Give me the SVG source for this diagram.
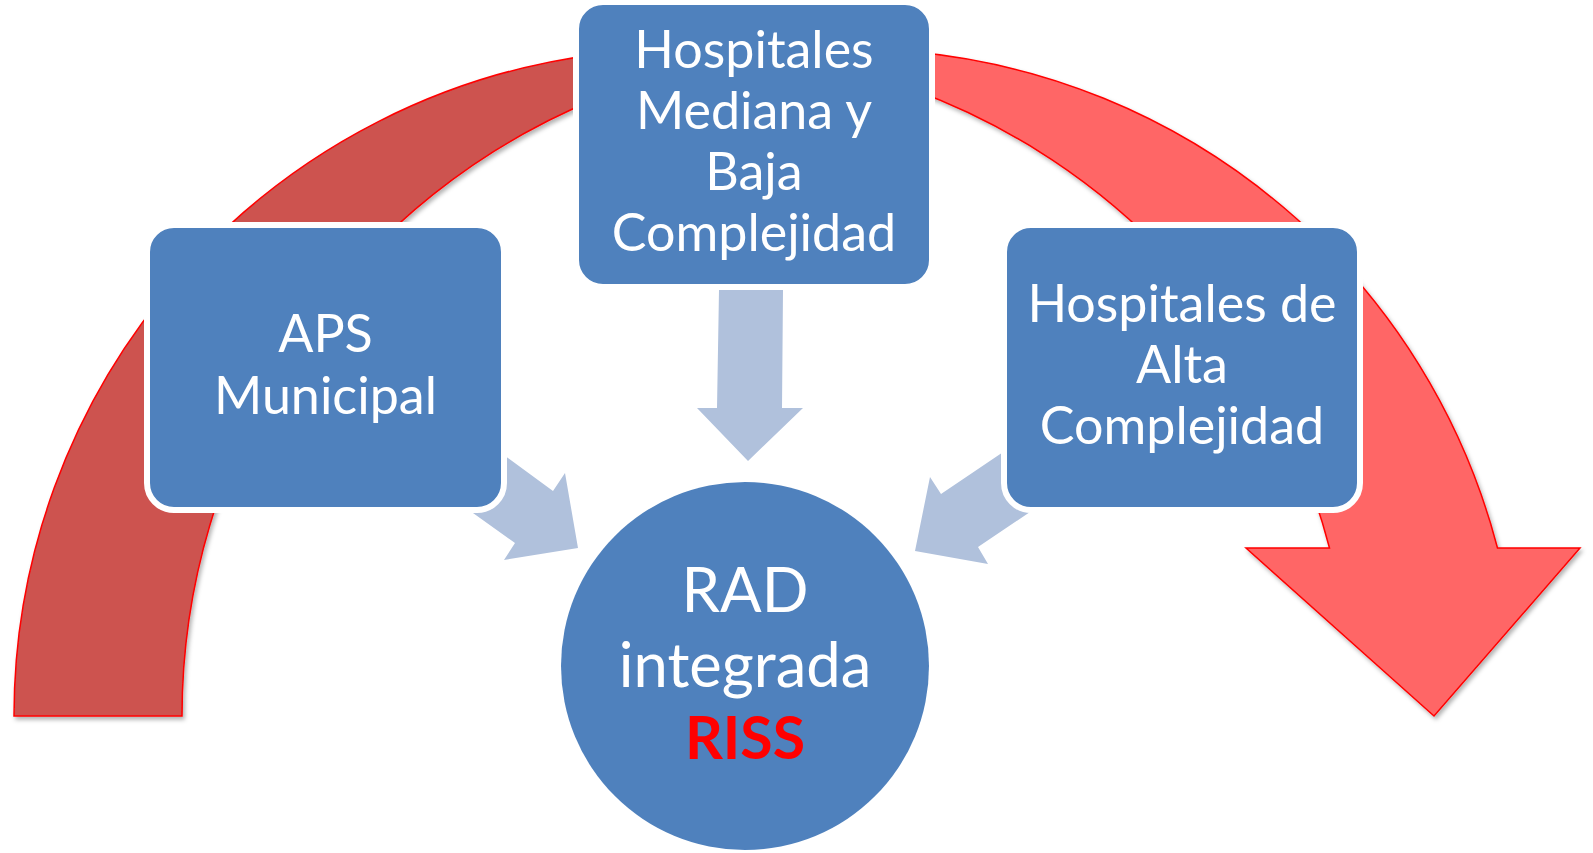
<svg xmlns="http://www.w3.org/2000/svg" width="1593" height="853" viewBox="0 0 1593 853">
<defs>
<filter id="sh" x="-10%" y="-10%" width="120%" height="120%">
<feDropShadow dx="2" dy="3" stdDeviation="2" flood-color="#000" flood-opacity="0.3"/>
</filter>
</defs>
<style>
.box{fill:#4F81BD;stroke:#FFFFFF;stroke-width:6}
.arr{fill:#B0C1DC;stroke:none}
.arc{stroke:#FF0000;stroke-width:1.5;stroke-linejoin:miter}
.t{font-family:Lato,"Liberation Sans",sans-serif;fill:#FFFFFF;text-anchor:middle}
.tb{font-size:52px}
.tc{font-size:61.5px}
.riss{font-family:Lato,"Liberation Sans",sans-serif;font-weight:bold;fill:#FF0000;font-size:59px;text-anchor:middle}
</style>
<rect width="1593" height="853" fill="#FFFFFF"/>
<g id="arcs">
<path class="arc" fill="#CD5250" filter="url(#sh)" d="M 14 716 A 667 667 0 0 1 600 53.9 L 600 97.2 A 667 667 0 0 0 182 716 Z"/>
<path class="arc" fill="#FF6666" filter="url(#sh)" d="M 910 51.5 A 667 667 0 0 1 1497.5 548 L 1580 548 L 1434 716 L 1246 548 L 1329.5 548 A 667 667 0 0 0 910 88.5 Z"/>
</g>
<g id="connectors">
<polygon class="arr" points="719,290 783,290 782,408 803,408 748,461 697,408 717,408"/>
<polygon class="arr" points="470,430 553,491 565,473 578,548 504,560 515,543 431,483"/>
<polygon class="arr" points="1040,427 941,494 930,477 915,551 988,564 978,547 1070,485"/>
</g>
<g id="node-hospitales-mediana">
<rect class="box" x="576" y="2" width="356" height="285" rx="27"/>
<text class="t tb" x="754" y="68">Hospitales</text>
<text class="t tb" x="754" y="129">Mediana y</text>
<text class="t tb" x="754" y="190">Baja</text>
<text class="t tb" x="754" y="251">Complejidad</text>
</g>
<g id="node-aps">
<rect class="box" x="147" y="225" width="357" height="285" rx="27"/>
<text class="t tb" x="325.5" y="352">APS</text>
<text class="t tb" x="325.5" y="414">Municipal</text>
</g>
<g id="node-hospitales-alta">
<rect class="box" x="1004" y="225" width="356" height="285" rx="27"/>
<text class="t tb" x="1182" y="322">Hospitales de</text>
<text class="t tb" x="1182" y="383">Alta</text>
<text class="t tb" x="1182" y="444">Complejidad</text>
</g>
<g id="node-rad">
<circle cx="745" cy="666" r="184" fill="#4F81BD"/>
<text class="t tc" x="745" y="612">RAD</text>
<text class="t tc" x="745" y="687">integrada</text>
<text class="riss" x="745" y="759">RISS</text>
</g>
</svg>
